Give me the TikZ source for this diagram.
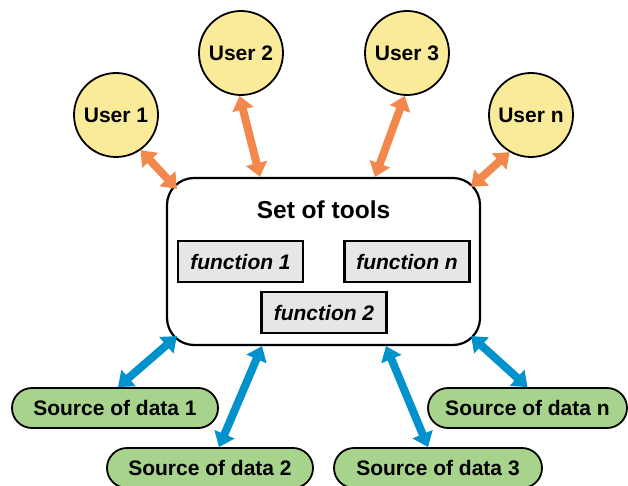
\documentclass[tikz,border=0pt]{standalone}
\usepackage{fontspec}
\setmainfont{Liberation Sans}
\usetikzlibrary{arrows.meta,shapes.misc}

\definecolor{useryellow}{RGB}{250,235,154}
\definecolor{srcgreen}{RGB}{168,211,140}
\definecolor{funcgray}{RGB}{230,230,230}
\definecolor{userorange}{RGB}{242,136,76}
\definecolor{srcblue}{RGB}{0,146,204}

\begin{document}
\begin{tikzpicture}[x=1pt,y=-1pt,
  user/.style={circle,draw,line width=1.8pt,fill=useryellow,minimum size=84pt,inner sep=0pt,
    font=\fontsize{21}{24}\selectfont\bfseries},
  func/.style={rectangle,draw,line width=2.2pt,fill=funcgray,minimum width=125pt,minimum height=41pt,
    inner sep=0pt,font=\fontsize{21}{24}\selectfont\bfseries\itshape},
  source/.style={rounded rectangle,draw,line width=1.8pt,fill=srcgreen,minimum height=40pt,inner sep=0pt,
    font=\fontsize{21}{24}\selectfont\bfseries},
  ulink/.style={line width=8pt,userorange,{Triangle[width=21pt,length=14pt]}-{Triangle[width=21pt,length=14pt]}},
  slink/.style={line width=8pt,srcblue,{Triangle[width=21pt,length=14pt]}-{Triangle[width=21pt,length=14pt]}}]

\useasboundingbox (0,0) rectangle (628,486);

\node[draw,line width=2.2pt,rounded corners=27pt,minimum width=313pt,minimum height=167pt] (tools) at (323.5,261.5) {};
\node[font=\fontsize{24.5}{28}\selectfont\bfseries] (title) at (323.5,210) {Set of tools};
\node[func] (f1) at (240.5,261.5) {function 1};
\node[func] (fn) at (407,261.5) {function n};
\node[func] (f2) at (324,312.5) {function 2};

\node[user] (u1) at (116,115) {User 1};
\node[user] (u2) at (241,53)  {User 2};
\node[user] (u3) at (407,53)  {User 3};
\node[user] (un) at (531,115) {User n};

\node[source,minimum width=206pt] (s1) at (115,408) {Source of data 1};
\node[source,minimum width=206pt] (s2) at (210,468) {Source of data 2};
\node[source,minimum width=208pt] (s3) at (438,468) {Source of data 3};
\node[source,minimum width=199pt] (sn) at (527.5,408) {Source of data n};

\draw[ulink] (u1.-55) -- ([xshift=11pt,yshift=-12pt]tools.north west);
\draw[ulink] (u2.-92) -- ([xshift=-63.5pt]tools.north);
\draw[ulink] (u3.-93) -- ([xshift=51.5pt]tools.north);
\draw[ulink] (un.-120) -- ([xshift=-10pt,yshift=-10pt]tools.north east);

\draw[slink] ([xshift=11pt,yshift=10pt]tools.south west) -- ([xshift=3pt]s1.north);
\draw[slink] ([xshift=-61.5pt]tools.south) -- ([xshift=9pt]s2.north);
\draw[slink] ([xshift=62.5pt]tools.south) -- ([xshift=-10pt]s3.north);
\draw[slink] ([xshift=-10pt,yshift=10pt]tools.south east) -- (sn.north);

\end{tikzpicture}
\end{document}
